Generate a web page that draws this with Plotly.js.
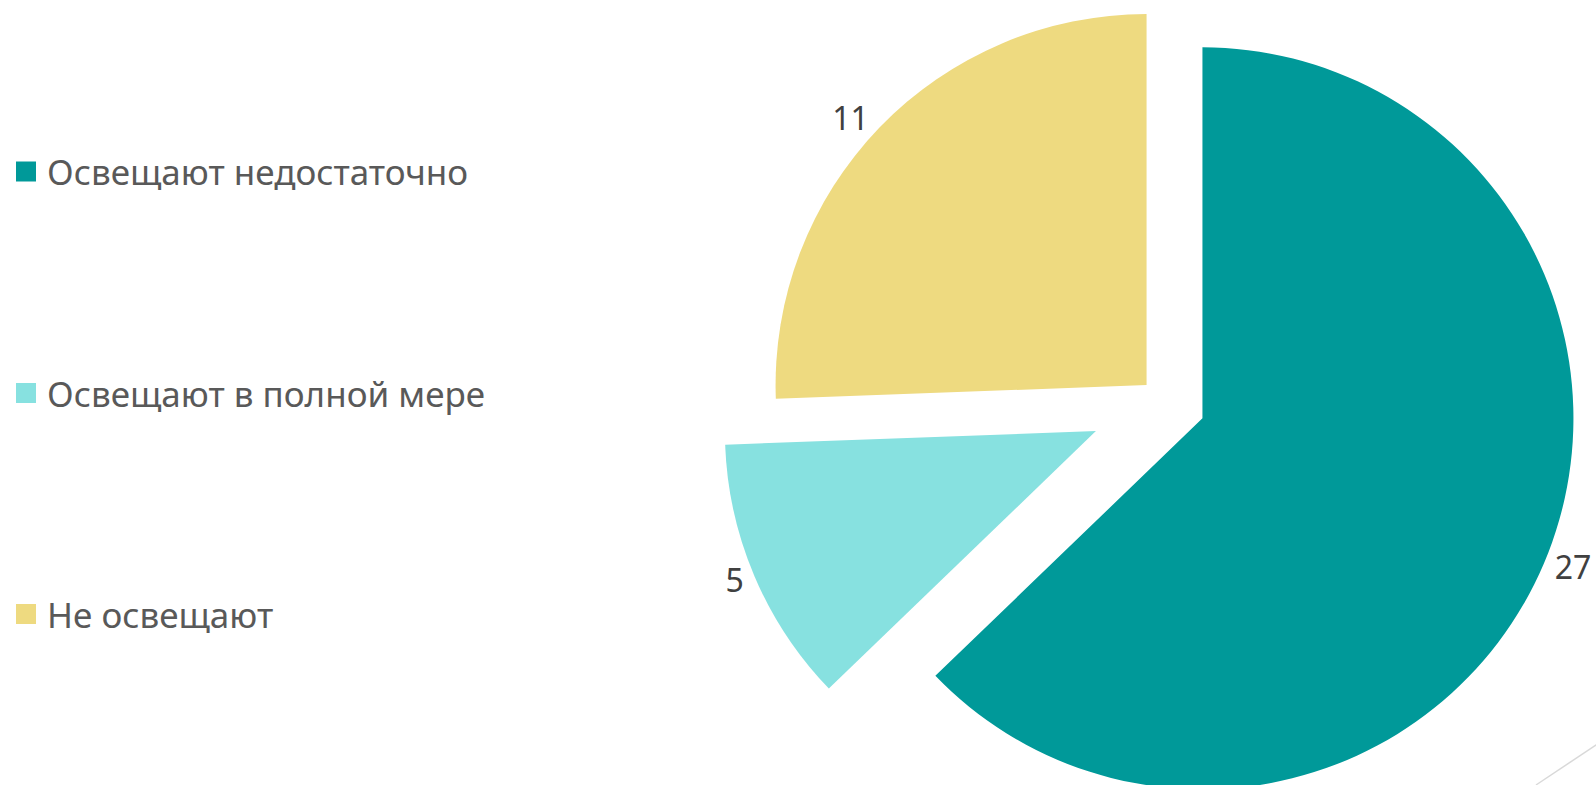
<!DOCTYPE html>
<html>
<head>
<meta charset="utf-8">
<script src="https://cdn.plot.ly/plotly-3.0.1.min.js"></script>
<style>
  html, body { margin: 0; padding: 0; overflow: hidden; background: #ffffff; width: 1596px; height: 785px; }
  #chart { position: absolute; left: 0; top: -48px; width: 1700px; height: 900px; }
</style>
</head>
<body>
<div id="chart"></div>
<script>
// ---- data ----
const categories = ["Освещают недостаточно", "Освещают в полной мере", "Не освещают"];
const values = [27, 5, 11];
const sliceColors = ["#009999", "#87E1E0", "#EEDA80"];
const pulls = [0.112, 0.2, 0.066];

// ---- layout helpers (viewport pixel -> paper coords of the larger div) ----
const W = 1700, H = 900, OFFY = 48;
const px = x => x / W;
const py = y => 1 - (y + OFFY) / H;

const FONT = "Noto Sans, DejaVu Sans, sans-serif";

const trace = {
  type: "pie",
  labels: categories,
  values: values,
  sort: false,
  direction: "clockwise",
  rotation: 0,
  pull: pulls,
  marker: { colors: sliceColors, line: { width: 0 } },
  textinfo: "value",
  textposition: "outside",
  outsidetextfont: { family: FONT, size: 32, color: "#404040" },
  domain: { x: [719 / W, 1609.4 / W], y: [py(847.3), py(-43.1)] },
  showlegend: false,
  hoverinfo: "label+value"
};

// legend built from the category arrays
const rowY = [171.5, 393, 614];
const annotations = categories.map((c, i) => ({
  xref: "paper", yref: "paper",
  x: px(45), y: py(rowY[i]),
  xanchor: "left", yanchor: "middle",
  text: c, showarrow: false,
  font: { family: FONT, size: 35, color: "#595959" }
}));
const shapes = categories.map((c, i) => ({
  type: "rect", xref: "paper", yref: "paper",
  x0: px(16), x1: px(36), y0: py(rowY[i] - 10), y1: py(rowY[i] + 10),
  fillcolor: sliceColors[i], line: { width: 0 }
}));
// decorative slide line, bottom right
shapes.push({
  type: "line", xref: "paper", yref: "paper",
  x0: px(1536), y0: py(785), x1: px(1656), y1: py(705),
  line: { color: "#D9D9D9", width: 1.5 }
});

const layout = {
  width: W, height: H,
  margin: { l: 0, r: 0, t: 0, b: 0 },
  paper_bgcolor: "#ffffff",
  plot_bgcolor: "#ffffff",
  showlegend: false,
  annotations: annotations,
  shapes: shapes
};

Plotly.newPlot("chart", [trace], layout, { displayModeBar: false, staticPlot: true });
</script>
</body>
</html>
